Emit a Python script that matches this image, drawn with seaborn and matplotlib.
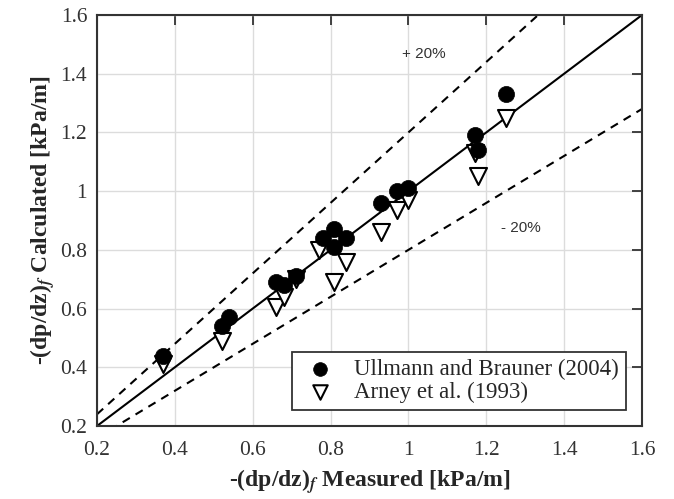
import numpy as np
import pandas as pd
import matplotlib
matplotlib.use("Agg")
import matplotlib.pyplot as plt
import seaborn as sns

# ===== data =====
ub_measured = [0.37, 0.52, 0.54, 0.66, 0.68, 0.71, 0.78, 0.81, 0.84, 0.81,
               0.93, 0.97, 1.00, 1.17, 1.18, 1.25]
ub_calculated = [0.44, 0.54, 0.57, 0.69, 0.68, 0.71, 0.84, 0.87, 0.84, 0.81,
                 0.96, 1.00, 1.01, 1.19, 1.14, 1.33]

arney_measured = [0.37, 0.52, 0.66, 0.68, 0.71, 0.77, 0.84, 0.81, 0.81,
                  0.93, 0.97, 1.00, 1.18, 1.17, 1.25]
arney_calculated = [0.41, 0.49, 0.605, 0.64, 0.70, 0.80, 0.76, 0.69, 0.82,
                    0.86, 0.935, 0.97, 1.05, 1.13, 1.25]

ref_x = [0.2, 1.6]
band = 0.2  # +/- 20 %

sns.set_theme(style="whitegrid")
plt.rcParams['font.family'] = ['Liberation Serif', 'DejaVu Serif']
plt.rcParams['mathtext.fontset'] = 'stix'

df_ub = pd.DataFrame({'x': ub_measured, 'y': ub_calculated})
df_ar = pd.DataFrame({'x': arney_measured, 'y': arney_calculated})

fig = plt.figure(figsize=(6.74, 4.99), dpi=100)
ax = fig.add_axes([97 / 674, 1 - 426 / 499, 545 / 674, 411 / 499])

# reference lines
xs = np.array(ref_x)
ax.plot(xs, xs, color='black', lw=1.5, zorder=2)
ax.plot(xs, xs * (1 + band), color='black', lw=1.5, ls=(0, (4, 3.2)), zorder=2)
ax.plot(xs, xs * (1 - band), color='black', lw=1.5, ls=(0, (4, 3.2)), zorder=2)

sns.scatterplot(data=df_ar, x='x', y='y', ax=ax, marker='v', s=150,
                facecolor='white', edgecolor='black', linewidth=1.5,
                label='Arney et al. (1993)', zorder=3)
sns.scatterplot(data=df_ub, x='x', y='y', ax=ax, marker='o', s=135,
                color='black', edgecolor='black', linewidth=0.5,
                label='Ullmann and Brauner (2004)', zorder=4)

ax.text(1.04, 1.468, '+ 20%', fontsize=11, ha='center', va='center',
        family='Liberation Sans', color='#333333')
ax.text(1.29, 0.874, '- 20%', fontsize=11, ha='center', va='center',
        family='Liberation Sans', color='#333333')

ax.set_xlim(0.2, 1.6)
ax.set_ylim(0.2, 1.6)
ticks = [0.2, 0.4, 0.6, 0.8, 1.0, 1.2, 1.4, 1.6]
tick_labels = ['0.2', '0.4', '0.6', '0.8', '1', '1.2', '1.4', '1.6']
ax.set_xticks(ticks)
ax.set_xticklabels(tick_labels)
ax.set_yticks(ticks)
ax.set_yticklabels(tick_labels)

ax.grid(True, color='#dcdcdc', lw=1)
ax.set_facecolor('white')
for sp in ax.spines.values():
    sp.set_color('#333333')
    sp.set_linewidth(1.5)
ax.tick_params(direction='in', length=7, width=1.3, color='#333333',
               labelsize=15.5, top=True, right=True, labelcolor='#333333')
ax.tick_params(axis='x', pad=11)
ax.tick_params(axis='y', pad=7)

ax.set_xlabel(r'-(dp/dz)$_\mathbfit{f}$ Measured [kPa/m]', fontsize=17,
              fontweight='bold', labelpad=5)
ax.set_ylabel(r'-(dp/dz)$_\mathbfit{f}$ Calculated [kPa/m]', fontsize=17,
              fontweight='bold', labelpad=2)

handles, labels = ax.get_legend_handles_labels()
order = [labels.index('Ullmann and Brauner (2004)'), labels.index('Arney et al. (1993)')]
leg = ax.legend([handles[i] for i in order], [labels[i] for i in order],
                loc='lower right', fontsize=16.5, frameon=True, fancybox=False,
                framealpha=1, edgecolor='#333333', borderpad=0.3,
                handletextpad=0.6, labelspacing=0.1, borderaxespad=0.7,
                handlelength=1.8, markerscale=0.85)
leg.get_frame().set_linewidth(1.3)

fig.savefig('out.png', dpi=100)
